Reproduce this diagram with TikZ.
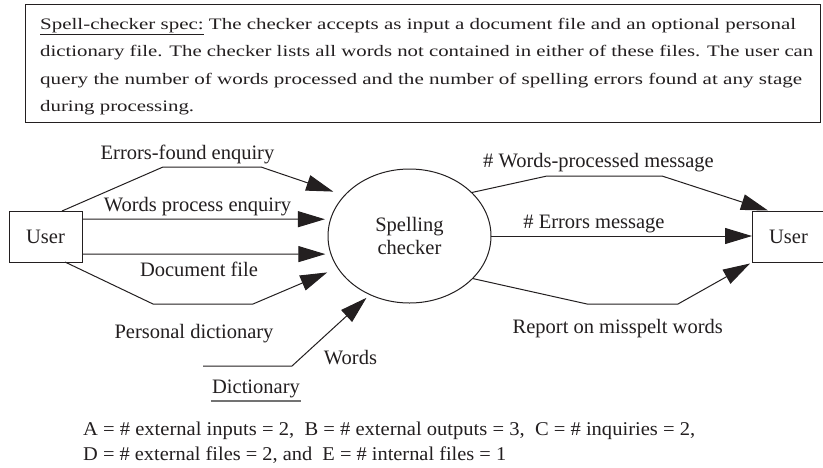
\documentclass[tikz,border=0pt]{standalone}
\usepackage{graphicx}
\usepackage{fontspec}
\setmainfont{Liberation Serif}
\usetikzlibrary{arrows.meta,shapes.geometric}
\definecolor{ink}{HTML}{231F20}
\newcommand{\fitw}[2]{\resizebox{#1}{\height}{#2}}
\begin{document}
\begin{tikzpicture}[x=1pt,y=-1pt,
  every node/.style={text=ink},
  lab/.style={font=\fontsize{20.5}{23.3}\selectfont, inner sep=0pt, anchor=base},
  toptxt/.style={font=\fontsize{16}{18}\selectfont, inner sep=0pt, anchor=base west},
  bottxt/.style={font=\fontsize{19.5}{23}\selectfont, inner sep=0pt, anchor=base west},
  flow/.style={draw=ink, line width=1pt, -{Triangle[length=27pt,width=16pt]}},
  plain/.style={draw=ink, line width=1pt},
  uline/.style={draw=black!55, line width=1.8pt},
  ent/.style={draw=ink, line width=1pt, minimum width=73pt, minimum height=51pt, inner sep=0pt, outer sep=0pt, font=\fontsize{20.5}{23.3}\selectfont},
  proc/.style={ellipse, draw=ink, line width=1pt, minimum width=163pt, minimum height=134pt, inner sep=0pt, outer sep=0pt, align=center, font=\fontsize{20.5}{23.3}\selectfont}
]
\useasboundingbox (0,0) rectangle (823,467);
\fill[white] (0,0) rectangle (823,467);

% specification box
\node[draw=ink, line width=1pt, minimum width=795pt, minimum height=118pt, inner sep=0pt, anchor=north west] (spec) at (25,4) {};
\node[toptxt] (t1) at (40,29) {\fitw{756pt}{\underline{Spell-checker spec:} The checker accepts as input a document file and an optional personal}};
\node[toptxt] (t2) at (40,56.5) {\fitw{773pt}{dictionary file. The checker lists all words not contained in either of these files. The user can}};
\node[toptxt] (t3) at (40,84) {\fitw{762pt}{query the number of words processed and the number of spelling errors found at any stage}};
\node[toptxt] (t4) at (40,111.3) {\fitw{154pt}{during processing.}};

% entities and process
\node[ent] (userL) at (45.5,236.5) {User};
\node[ent] (userR) at (788.5,237) {User};
\node[proc] (spell) at (409.5,236) {Spelling\\checker};

% waypoints
\coordinate (ef1) at (163,167);
\coordinate (ef2) at (261,167);
\coordinate (pd1) at (153,304);
\coordinate (pd2) at (253,304);
\coordinate (dsL) at (203,366);
\coordinate (dsR) at (292,366);
\coordinate (wp1) at (547,176);
\coordinate (wp2) at (662,176);
\coordinate (rp1) at (587,304);
\coordinate (rp2) at (678,304);

% inputs
\draw[flow, shorten >=12pt] ([xshift=-20pt]userL.north east) -- (ef1) -- (ef2) -- (spell.148);
\draw[flow, shorten >=5.7pt] ([yshift=17.5pt]userL.east) -- (spell.168);
\draw[flow, shorten >=5.7pt] ([yshift=-17.5pt]userL.east) -- (spell.193);
\draw[flow, shorten >=11.5pt] ([xshift=-17pt]userL.south east) -- (pd1) -- (pd2) -- (spell.204);
\draw[flow, shorten >=4.7pt] (dsL) -- (dsR) -- (spell.236);

% outputs
\draw[flow] (spell.35) -- (wp1) -- (wp2) -- ([xshift=16pt,yshift=1pt]userR.north west);
\draw[flow] (spell.east) -- (spell.east -| userR.west);
\draw[flow] (spell.-34) -- (rp1) -- (rp2) -- ([xshift=-2pt,yshift=-1pt]userR.south west);

% labels
\node[lab] (lef) at (187.5,159.3) {Errors-found enquiry};
\node[lab] (lwp) at (197.5,211.7) {Words process enquiry};
\node[lab] (ldf) at (199,276.7) {Document file};
\node[lab] (lpd) at (194,338) {Personal dictionary};
\node[lab] (lw) at (350.5,364) {Words};
\node[lab, inner xsep=1pt, inner ysep=3.2pt] (dict) at (256,393.3) {Dictionary};
\draw[uline] (dict.south west) -- (dict.south east);
\node[lab] (lwm) at (598.5,167.3) {\# Words-processed message};
\node[lab] (lem) at (594,228.3) {\# Errors message};
\node[lab, anchor=base east] (lrm) at (723,333.3) {Report on misspelt words};

% counts
\node[bottxt] (b1) at (83,435) {\fitw{612pt}{A = \# external inputs = 2,~ B = \# external outputs = 3,~ C = \# inquiries = 2,}};
\node[bottxt] (b2) at (83,460) {\fitw{423pt}{D = \# external files = 2, and~ E = \# internal files = 1}};
\end{tikzpicture}
\end{document}
